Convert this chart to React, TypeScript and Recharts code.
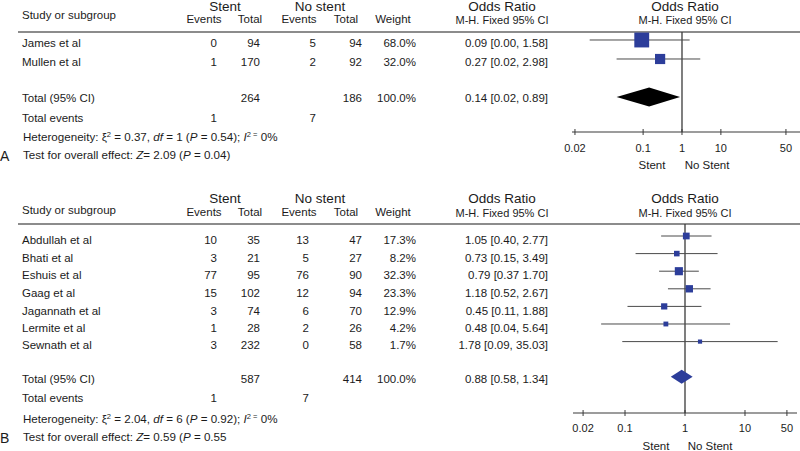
import React from "react";
import { ScatterChart, Scatter, XAxis, YAxis, ReferenceLine, ErrorBar } from "recharts";

// ---- panel A data ----
const studiesA = ["James et al", "Mullen et al"];
const stentEventsA = [0, 1];
const stentTotalA = [94, 170];
const noStentEventsA = [5, 2];
const noStentTotalA = [94, 92];
const weightA = [68.0, 32.0];
const orA = [0.09, 0.27];
const lowA = [0.004, 0.02];
const highA = [1.58, 2.98];
const ciLabelA = ["0.09 [0.00, 1.58]", "0.27 [0.02, 2.98]"];
const totalA = { stent: 264, noStent: 186, or: 0.14, low: 0.02, high: 0.89, label: "0.14 [0.02, 0.89]" };
const totalEventsA = [1, 7];
const hetA = { chi2: "0.37", df: 1, p: "0.54", i2: 0, z: "2.09", pz: "0.04", close: true };
const tickLabelsA = ["0.02", "0.1", "1", "10", "50"];
const tickPosA = [-2.78, -1.01, 0, 1.01, 2.7];

// ---- panel B data ----
const studiesB = ["Abdullah et al", "Bhati et al", "Eshuis et al", "Gaag et al", "Jagannath et al", "Lermite et al", "Sewnath et al"];
const stentEventsB = [10, 3, 77, 15, 3, 1, 3];
const stentTotalB = [35, 21, 95, 102, 74, 28, 232];
const noStentEventsB = [13, 5, 76, 12, 6, 2, 0];
const noStentTotalB = [47, 27, 90, 94, 70, 26, 58];
const weightB = [17.3, 8.2, 32.3, 23.3, 12.9, 4.2, 1.7];
const orB = [1.05, 0.73, 0.79, 1.18, 0.45, 0.48, 1.78];
const lowB = [0.4, 0.15, 0.37, 0.52, 0.11, 0.04, 0.09];
const highB = [2.77, 3.49, 1.7, 2.67, 1.88, 5.64, 35.03];
const ciLabelB = [
  "1.05 [0.40, 2.77]",
  "0.73 [0.15, 3.49]",
  "0.79 [0.37 1.70]",
  "1.18 [0.52, 2.67]",
  "0.45 [0.11, 1.88]",
  "0.48 [0.04, 5.64]",
  "1.78 [0.09, 35.03]",
];
const totalB = { stent: 587, noStent: 414, or: 0.88, low: 0.58, high: 1.34, label: "0.88 [0.58, 1.34]" };
const totalEventsB = [1, 7];
const hetB = { chi2: "2.04", df: 6, p: "0.92", i2: 0, z: "0.59", pz: "0.55", close: false };
const tickLabelsB = ["0.02", "0.1", "1", "10", "50"];
const tickValuesB = [0.02, 0.1, 1, 10, 50];

const FONT = '"Liberation Sans", Arial, Helvetica, sans-serif';
const TEXT = "#1b1b1b";
const BLUE = "#2c3d9a";
const AXIS = "#3a3a3a";
const CI_STROKE = "#4a4a4a";
const RULE = "#8c8c8c";

// column positions shared by both panels
const COL = {
  name: 22, stEv: 217, stTot: 260, nsTot: 362, weight: 416, or: 548,
  stentC: 225, noStentC: 320, ev1C: 204, tot1C: 250, ev2C: 299, tot2C: 346, weightC: 393, orC: 502, plotC: 685,
};

function T({ x, y, a = "start", s = 11.5, children, st }: any) {
  const tx = a === "middle" ? "-50%" : a === "end" ? "-100%" : "0";
  return (
    <div
      style={{
        position: "absolute",
        left: x,
        top: y,
        transform: `translate(${tx}, -50%)`,
        fontSize: s,
        lineHeight: 1,
        whiteSpace: "nowrap",
        color: TEXT,
        ...st,
      }}
    >
      {children}
    </div>
  );
}

const sup = { fontSize: "0.65em", verticalAlign: "0.55em", lineHeight: 0 };

function Panel(props: any) {
  const { L, studies, stentEvents, stentTotal, noEvents, noTotal, weights, ors, lows, highs, ciLabels, total, totalEvents, het, ticks, tickLabels } = props;

  const studyData = studies.map((name: string, i: number) => {
    const x = Math.log10(ors[i]);
    return {
      name,
      x,
      y: i,
      err: [x - Math.log10(lows[i]), Math.log10(highs[i]) - x],
      size: L.sizeFn(weights[i]),
    };
  });
  const totalRow = studies.length + 1;
  const diamondData = [total.low, total.or, total.high].map((v: number) => ({ x: Math.log10(v), y: totalRow }));

  const renderTick = (p: any) => (
    <g>
      <line x1={p.x} x2={p.x} y1={p.y - 3} y2={p.y + 3} stroke={AXIS} strokeWidth={1} />
      <text x={p.x} y={p.y + L.tickDy} textAnchor="middle" fontSize={11} fill={TEXT} fontFamily={FONT}>
        {tickLabels[p.index]}
      </text>
    </g>
  );

  const diamondLine = (p: any) => {
    const pts = p.points;
    if (!pts || pts.length < 3) return <g />;
    const [l, c, r] = pts;
    const h = L.diamondH;
    return (
      <polygon
        points={`${l.x},${l.y} ${c.x},${c.y - h} ${r.x},${r.y} ${c.x},${c.y + h}`}
        fill={L.diamondFill}
        stroke="none"
      />
    );
  };

  return (
    <>
      <T x={COL.name} y={L.studyHdrY}>Study or subgroup</T>
      <T x={COL.stentC} y={L.bigY} a="middle" s={13.5}>Stent</T>
      <T x={COL.noStentC} y={L.bigY} a="middle" s={13.5}>No stent</T>
      <T x={COL.orC} y={L.bigY} a="middle" s={13.5}>Odds Ratio</T>
      <T x={COL.plotC} y={L.bigY} a="middle" s={13.5}>Odds Ratio</T>
      <T x={COL.ev1C} y={L.smallY} a="middle">Events</T>
      <T x={COL.tot1C} y={L.smallY} a="middle">Total</T>
      <T x={COL.ev2C} y={L.smallY} a="middle">Events</T>
      <T x={COL.tot2C} y={L.smallY} a="middle">Total</T>
      <T x={COL.weightC} y={L.smallY} a="middle">Weight</T>
      <T x={COL.orC} y={L.smallY} a="middle" s={11}>M-H. Fixed 95% CI</T>
      <T x={COL.plotC} y={L.smallY} a="middle" s={11}>M-H. Fixed 95% CI</T>
      <div style={{ position: "absolute", left: 18, width: 782, top: L.ruleY - 1, height: 2, background: RULE }} />

      {studies.map((name: string, i: number) => (
        <React.Fragment key={name}>
          <T x={COL.name} y={L.rows[i]}>{name}</T>
          <T x={COL.stEv} y={L.rows[i]} a="end">{stentEvents[i]}</T>
          <T x={COL.stTot} y={L.rows[i]} a="end">{stentTotal[i]}</T>
          <T x={L.nsEvR} y={L.rows[i]} a="end">{noEvents[i]}</T>
          <T x={COL.nsTot} y={L.rows[i]} a="end">{noTotal[i]}</T>
          <T x={COL.weight} y={L.rows[i]} a="end">{weights[i].toFixed(1)}%</T>
          <T x={COL.or} y={L.rows[i]} a="end">{ciLabels[i]}</T>
        </React.Fragment>
      ))}

      <T x={COL.name} y={L.totalY}>Total (95% CI)</T>
      <T x={COL.stTot} y={L.totalY} a="end">{total.stent}</T>
      <T x={COL.nsTot} y={L.totalY} a="end">{total.noStent}</T>
      <T x={COL.weight} y={L.totalY} a="end">100.0%</T>
      <T x={COL.or} y={L.totalY} a="end">{total.label}</T>

      <T x={COL.name} y={L.eventsY}>Total events</T>
      <T x={COL.stEv} y={L.eventsY} a="end">{totalEvents[0]}</T>
      <T x={L.nsEvR} y={L.eventsY} a="end">{totalEvents[1]}</T>

      <T x={23} y={L.hetY} s={11.6}>
        Heterogeneity: ξ<span style={sup}>2</span> = {het.chi2}, <i>df</i> = {het.df} (<i>P</i> = {het.p}); <i>I</i>
        <span style={sup}>2 =</span> {het.i2}%
      </T>
      <T x={23} y={L.testY} s={11.6}>
        Test for overall effect: <i>Z</i>= {het.z} (<i>P</i> = {het.pz}
        {het.close ? ")" : ""}
      </T>
      <T x={0} y={L.letterY} s={14}>{L.letter}</T>

      <T x={L.stentLblX} y={L.lblY} a="middle">Stent</T>
      <T x={L.noStentLblX} y={L.lblY} a="middle">No Stent</T>

      <div style={{ position: "absolute", left: L.chartLeft - L.padLeft, top: L.chartTop }}>
        <ScatterChart
          width={L.chartWidth + L.padLeft}
          height={L.plotH + 30}
          margin={{ top: 0, right: 0, bottom: 0, left: L.padLeft }}
        >
          <XAxis
            type="number"
            dataKey="x"
            domain={L.xDomain}
            ticks={ticks}
            interval={0}
            tickSize={0}
            tickMargin={0}
            tickLine={false}
            axisLine={{ stroke: AXIS, strokeWidth: 1.2 }}
            height={30}
            allowDataOverflow
            tick={renderTick}
          />
          <YAxis type="number" dataKey="y" domain={L.yDomain} reversed hide allowDataOverflow />
          <ReferenceLine x={0} stroke={AXIS} strokeWidth={1.3} />
          <Scatter
            data={studyData}
            isAnimationActive={false}
            shape={(p: any) => {
              const s = p.payload.size;
              return <rect x={p.cx - s / 2} y={p.cy - s / 2} width={s} height={s} fill={BLUE} />;
            }}
          >
            <ErrorBar dataKey="err" direction="x" width={0} stroke={CI_STROKE} strokeWidth={1} isAnimationActive={false} />
          </Scatter>
          <Scatter data={diamondData} isAnimationActive={false} shape={() => <g />} line={diamondLine} fill={L.diamondFill} />
        </ScatterChart>
      </div>
    </>
  );
}

const layoutA = {
  letter: "A",
  bigY: 6.5, smallY: 19.5, studyHdrY: 16, ruleY: 31.5,
  rows: [44, 63], totalY: 99, eventsY: 119, hetY: 137, testY: 155, letterY: 156,
  nsEvR: 316,
  chartLeft: 572, chartTop: 32, chartWidth: 228, plotH: 100, padLeft: 14,
  xDomain: [-2.857, 3.065], yDomain: [-0.421, 4.842],
  diamondH: 9.5, diamondFill: "#000000", tickDy: 19.5,
  lblY: 166, stentLblX: 652, noStentLblX: 707,
  sizeFn: (w: number) => 1.8 * Math.sqrt(w),
};

const layoutB = {
  letter: "B",
  bigY: 199, smallY: 212.5, studyHdrY: 211, ruleY: 223.5,
  rows: [241, 259, 276, 294, 312, 329, 346], totalY: 380, eventsY: 399, hetY: 419, testY: 437, letterY: 438,
  nsEvR: 309,
  chartLeft: 573, chartTop: 224, chartWidth: 224, plotH: 189, padLeft: 14,
  xDomain: [-1.867, 1.867], yDomain: [-0.682, 10.057],
  diamondH: 7, diamondFill: BLUE, tickDy: 18.5,
  lblY: 447, stentLblX: 656, noStentLblX: 710,
  sizeFn: (w: number) => 3 + 0.9 * Math.sqrt(w),
};

export default function App() {
  return (
    <div
      style={{
        position: "absolute",
        left: 0,
        top: 0,
        width: 800,
        height: 451,
        overflow: "hidden",
        background: "#ffffff",
        fontFamily: FONT,
      }}
    >
      <Panel
        L={layoutA}
        studies={studiesA}
        stentEvents={stentEventsA}
        stentTotal={stentTotalA}
        noEvents={noStentEventsA}
        noTotal={noStentTotalA}
        weights={weightA}
        ors={orA}
        lows={lowA}
        highs={highA}
        ciLabels={ciLabelA}
        total={totalA}
        totalEvents={totalEventsA}
        het={hetA}
        ticks={tickPosA}
        tickLabels={tickLabelsA}
      />
      <Panel
        L={layoutB}
        studies={studiesB}
        stentEvents={stentEventsB}
        stentTotal={stentTotalB}
        noEvents={noStentEventsB}
        noTotal={noStentTotalB}
        weights={weightB}
        ors={orB}
        lows={lowB}
        highs={highB}
        ciLabels={ciLabelB}
        total={totalB}
        totalEvents={totalEventsB}
        het={hetB}
        ticks={tickValuesB.map((v) => Math.log10(v))}
        tickLabels={tickLabelsB}
      />
    </div>
  );
}
